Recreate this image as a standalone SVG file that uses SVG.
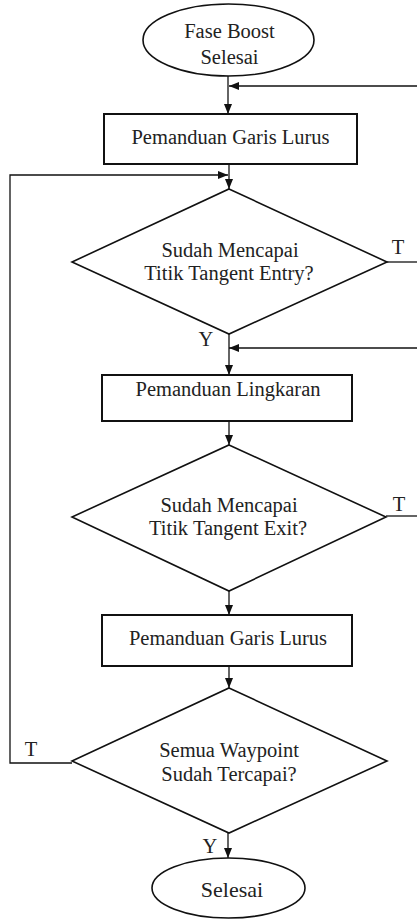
<svg xmlns="http://www.w3.org/2000/svg" width="417" height="919" viewBox="0 0 417 919">
<style>
.t{font-family:"Liberation Serif","Times New Roman",serif;font-size:20.5px;fill:#222;text-anchor:middle}
.box{fill:#fff;stroke:#111;stroke-width:2}
.dia{fill:#fff;stroke:#111;stroke-width:1.6}
.ell{fill:#fff;stroke:#111;stroke-width:1.6}
.c{fill:none;stroke:#111;stroke-width:1.3}
.a{marker-end:url(#ah)}
</style>
<defs>
<marker id="ah" markerUnits="userSpaceOnUse" markerWidth="11" markerHeight="9" refX="10" refY="4" orient="auto">
<path d="M0,0 L10,4 L0,8 z" fill="#111"/>
</marker>
</defs>
<rect width="417" height="919" fill="#fff"/>
<g id="connectors">
<line class="c a" x1="228" y1="76" x2="228" y2="114"/>
<line class="c a" x1="417" y1="86" x2="229" y2="86"/>
<line class="c a" x1="229" y1="164" x2="229" y2="189"/>
<polyline class="c a" points="72,763 10,763 10,175 228,175"/>
<line class="c" x1="387" y1="262" x2="417" y2="262"/>
<line class="c a" x1="229" y1="334" x2="229" y2="375"/>
<line class="c a" x1="417" y1="348" x2="229" y2="348"/>
<line class="c a" x1="229" y1="421" x2="229" y2="445"/>
<line class="c" x1="386" y1="516" x2="417" y2="516"/>
<line class="c a" x1="229" y1="591" x2="229" y2="615"/>
<line class="c a" x1="229" y1="666" x2="229" y2="688"/>
<line class="c a" x1="228" y1="833" x2="228" y2="858"/>
<text class="t" x="398" y="254">T</text>
<text class="t" x="206" y="346">Y</text>
<text class="t" x="399" y="511">T</text>
<text class="t" x="31" y="756">T</text>
<text class="t" x="210" y="853">Y</text>
</g>
<g id="start">
<ellipse class="ell" cx="228.5" cy="40" rx="85.5" ry="36"/>
<text class="t" x="229.5" y="38">Fase Boost</text>
<text class="t" x="229.5" y="64">Selesai</text>
</g>
<g id="guide1">
<rect class="box" x="104" y="114" width="253" height="50"/>
<text class="t" x="230.5" y="144">Pemanduan Garis Lurus</text>
</g>
<g id="dec1">
<polygon class="dia" points="229,189 387,262 229,334 72,262"/>
<text class="t" x="230" y="257">Sudah Mencapai</text>
<text class="t" x="229" y="280">Titik Tangent Entry?</text>
</g>
<g id="guide2">
<rect class="box" x="102" y="375" width="250" height="46"/>
<text class="t" x="228" y="396">Pemanduan Lingkaran</text>
</g>
<g id="dec2">
<polygon class="dia" points="229,445 386,517 229,591 72,517"/>
<text class="t" x="229" y="512">Sudah Mencapai</text>
<text class="t" x="228" y="535">Titik Tangent Exit?</text>
</g>
<g id="guide3">
<rect class="box" x="102" y="615" width="250" height="51"/>
<text class="t" x="228" y="645">Pemanduan Garis Lurus</text>
</g>
<g id="dec3">
<polygon class="dia" points="229,688 387,761 229,833 72,761"/>
<text class="t" x="229" y="757">Semua Waypoint</text>
<text class="t" x="229" y="781">Sudah Tercapai?</text>
</g>
<g id="end">
<ellipse class="ell" cx="228.5" cy="888" rx="76.5" ry="30"/>
<text class="t" x="232" y="897" style="font-size:22px">Selesai</text>
</g>
</svg>
